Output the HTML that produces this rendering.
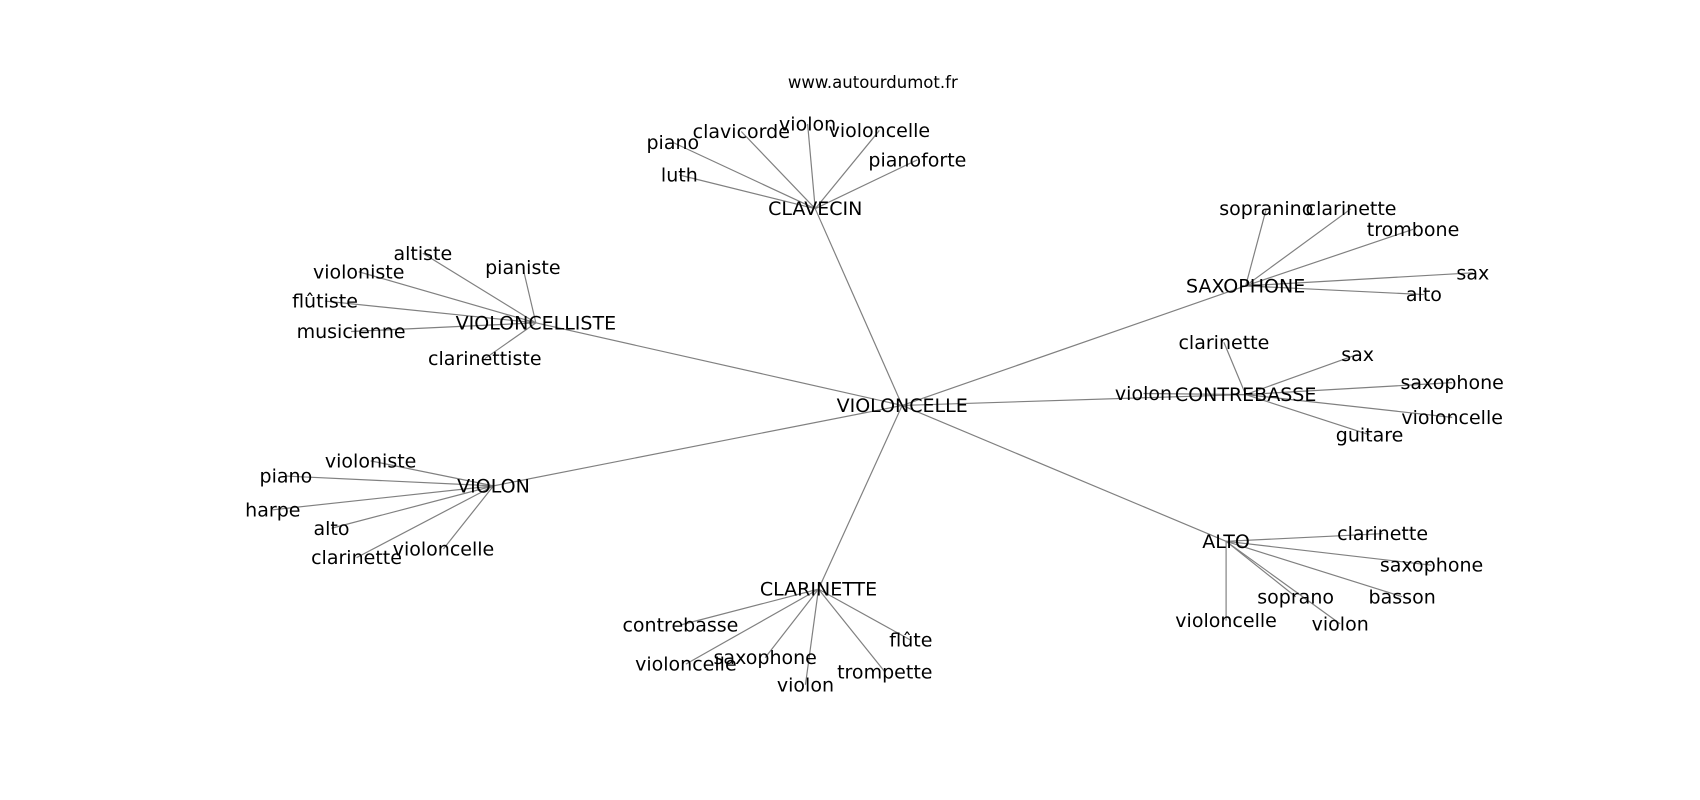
<!DOCTYPE html>
<html><head><meta charset="utf-8"><style>
html,body{margin:0;padding:0;background:#fff;width:1700px;height:800px;overflow:hidden}
text{font-family:"DejaVu Sans","Liberation Sans",sans-serif;fill:#000}
</style></head><body>
<svg width="1700" height="800" viewBox="0 0 1564 736" xmlns="http://www.w3.org/2000/svg">
<text x="803" y="81" font-size="15.2" text-anchor="middle">www.autourdumot.fr</text>
<g stroke="#808080" stroke-width="1.1" fill="none" id="edges"></g>
<g font-size="17.5" text-anchor="middle" id="labels"></g>
</svg>
<script>
const N={
"VIOLONCELLE":[830,373],
"CLAVECIN":[750,192],"SAXOPHONE":[1146,263],"CONTREBASSE":[1146,363],"ALTO":[1128,498],
"CLARINETTE":[753,542],"VIOLON":[454,447],"VIOLONCELLISTE":[493,297]};
const L={
"CLAVECIN":[["piano",619,131],["clavicorde",682,121],["violon",743,114],["violoncelle",809,120],["pianoforte",844,147],["luth",625,161]],
"SAXOPHONE":[["sopranino",1165,192],["clarinette",1243,192],["trombone",1300,211],["sax",1355,251],["alto",1310,271]],
"CONTREBASSE":[["clarinette",1126,315],["sax",1249,326],["saxophone",1336,352],["violoncelle",1336,384],["guitare",1260,400],["violon",1052,362]],
"ALTO":[["clarinette",1272,491],["saxophone",1317,520],["basson",1290,549],["soprano",1192,549],["violon",1233,574],["violoncelle",1128,571]],
"CLARINETTE":[["contrebasse",626,575],["violoncelle",631,611],["saxophone",704,605],["violon",741,630],["trompette",814,618],["flûte",838,589]],
"VIOLON":[["violoniste",341,424],["piano",263,438],["harpe",251,469],["alto",305,486],["clarinette",328,513],["violoncelle",408,505]],
"VIOLONCELLISTE":[["altiste",389,233],["pianiste",481,246],["violoniste",330,250],["flûtiste",299,277],["musicienne",323,305],["clarinettiste",446,330]]};
const ns="http://www.w3.org/2000/svg",E=document.getElementById("edges"),T=document.getElementById("labels");
function line(a,b){const l=document.createElementNS(ns,"line");l.setAttribute("x1",a[0]);l.setAttribute("y1",a[1]);l.setAttribute("x2",b[0]);l.setAttribute("y2",b[1]);E.appendChild(l);}
function txt(s,p){const t=document.createElementNS(ns,"text");t.setAttribute("x",p[0]);t.setAttribute("y",p[1]+6);t.textContent=s;T.appendChild(t);}
for(const h in L){ if(h!=="VIOLONCELLE") line(N.VIOLONCELLE,N[h]); for(const [s,x,y] of L[h]){line(N[h],[x,y]);txt(s,[x,y]);} }
for(const k in N) txt(k,N[k]);
</script>
</body></html>
